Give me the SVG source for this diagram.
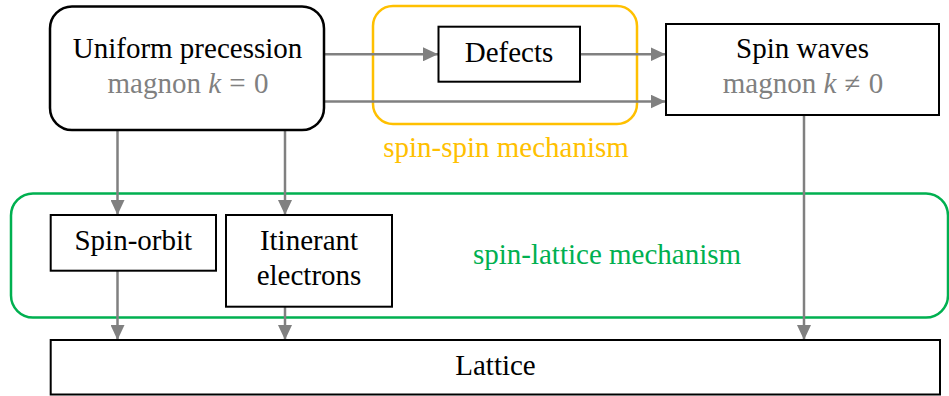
<svg xmlns="http://www.w3.org/2000/svg" width="949" height="396" viewBox="0 0 949 396">
  <style>
    .node { fill: #ffffff; stroke: #000000; stroke-width: 2; }
    .t { font-family: 'Liberation Serif', 'Times New Roman', serif; font-size: 29px; text-anchor: middle; fill: #000000; }
    .sub { fill: #808080; }
    .conn { fill: none; stroke: #808080; stroke-width: 2.5; marker-end: url(#arrow); }
    .grp { fill: none; stroke-width: 2.5; }
  </style>
  <defs>
    <marker id="arrow" viewBox="0 0 15 14" refX="15" refY="7" markerWidth="15" markerHeight="14" markerUnits="userSpaceOnUse" orient="auto">
      <path d="M0,0 L15,7 L0,14 z" fill="#808080"/>
    </marker>
  </defs>

  <g id="spin-spin-group">
    <rect class="grp" x="373" y="6" width="264" height="118" rx="20" stroke="#FFC000"/>
    <text class="t" x="506" y="157" style="fill:#FFC000">spin-spin mechanism</text>
  </g>

  <g id="spin-lattice-group">
    <rect class="grp" x="11" y="193.5" width="937" height="124" rx="22" stroke="#00B050"/>
    <text class="t" x="607" y="264" style="fill:#00B050">spin-lattice mechanism</text>
  </g>

  <g id="connectors">
    <path class="conn" d="M325,54.3 H438"/>
    <path class="conn" d="M581,54.3 H665.5"/>
    <path class="conn" d="M325,101.5 H665.5"/>
    <path class="conn" d="M117.5,131 V215"/>
    <path class="conn" d="M285,131 V215"/>
    <path class="conn" d="M117.5,271 V340"/>
    <path class="conn" d="M285,307 V340"/>
    <path class="conn" d="M804,116 V340"/>
  </g>

  <g id="uniform-precession">
    <rect class="node" x="50" y="6.5" width="274" height="123.5" rx="22" style="stroke-width:2.5"/>
    <text class="t" x="187.5" y="58">Uniform precession</text>
    <text class="t sub" x="188" y="93" xml:space="preserve">magnon <tspan font-style="italic">k</tspan> <tspan dx="1">=</tspan> <tspan dx="1">0</tspan></text>
  </g>

  <g id="defects">
    <rect class="node" x="438.5" y="26.7" width="141.5" height="55"/>
    <text class="t" x="509" y="62">Defects</text>
  </g>

  <g id="spin-waves">
    <rect class="node" x="666" y="24" width="273" height="91"/>
    <text class="t" x="802.5" y="58">Spin waves</text>
    <text class="t sub" x="803" y="93" xml:space="preserve">magnon <tspan font-style="italic">k</tspan> <tspan dx="1">≠</tspan> <tspan dx="1">0</tspan></text>
  </g>

  <g id="spin-orbit">
    <rect class="node" x="50.7" y="215" width="165.3" height="55.7"/>
    <text class="t" x="133.3" y="250">Spin-orbit</text>
  </g>

  <g id="itinerant-electrons">
    <rect class="node" x="226" y="215" width="166" height="91.7"/>
    <text class="t" x="309" y="250">Itinerant</text>
    <text class="t" x="309" y="285">electrons</text>
  </g>

  <g id="lattice">
    <rect class="node" x="50.7" y="340" width="889.3" height="54.5"/>
    <text class="t" x="495.5" y="375">Lattice</text>
  </g>
</svg>
